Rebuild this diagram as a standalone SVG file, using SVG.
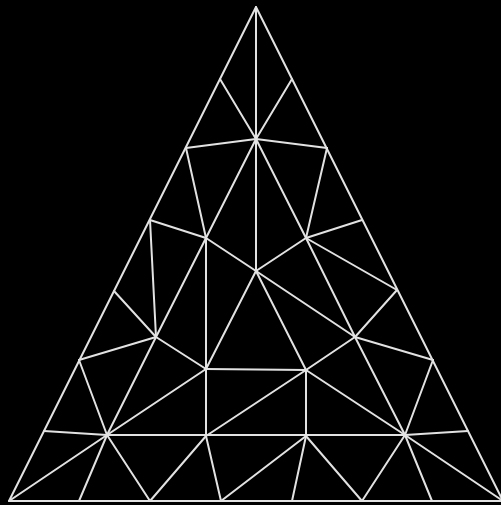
<svg xmlns="http://www.w3.org/2000/svg" width="501" height="505" viewBox="0 0 501 505">
<style>
.m line, .m polygon { stroke: #e2e2e2; stroke-width: 2; fill: none; stroke-linecap: round; stroke-linejoin: round; }
</style>
<rect x="0" y="0" width="501" height="505" fill="#000"/>
<g class="m" id="mesh">
<polygon points="256,7 9,501 503,501"/>
<!-- apex region -->
<line x1="256" y1="7" x2="256" y2="139"/>
<line x1="220" y1="79" x2="256" y2="139"/>
<line x1="292" y1="79" x2="256" y2="139"/>
<line x1="186" y1="148" x2="256" y2="139"/>
<line x1="327" y1="148" x2="256" y2="139"/>
<line x1="256" y1="139" x2="256" y2="271"/>
<line x1="256" y1="139" x2="206" y2="238"/>
<line x1="256" y1="139" x2="306" y2="238"/>
<line x1="186" y1="148" x2="206" y2="238"/>
<line x1="327" y1="148" x2="306" y2="238"/>
<line x1="150" y1="220" x2="206" y2="238"/>
<line x1="362" y1="220" x2="306" y2="238"/>
<line x1="206" y1="238" x2="256" y2="271"/>
<line x1="306" y1="238" x2="256" y2="271"/>
<!-- middle -->
<line x1="206" y1="238" x2="206" y2="436"/>
<line x1="206" y1="238" x2="156" y2="337"/>
<line x1="150" y1="220" x2="156" y2="337"/>
<line x1="114" y1="291" x2="156" y2="337"/>
<line x1="79" y1="360" x2="156" y2="337"/>
<line x1="156" y1="337" x2="206" y2="369"/>
<line x1="156" y1="337" x2="107" y2="435"/>
<line x1="79" y1="360" x2="107" y2="435"/>
<line x1="206" y1="369" x2="107" y2="435"/>
<line x1="256" y1="271" x2="206" y2="369"/>
<line x1="256" y1="271" x2="306" y2="370"/>
<line x1="256" y1="271" x2="355" y2="337"/>
<line x1="306" y1="238" x2="397" y2="290"/>
<line x1="306" y1="238" x2="355" y2="337"/>
<line x1="355" y1="337" x2="397" y2="290"/>
<line x1="355" y1="337" x2="433" y2="360"/>
<line x1="355" y1="337" x2="306" y2="370"/>
<line x1="355" y1="337" x2="405" y2="435"/>
<line x1="433" y1="360" x2="405" y2="435"/>
<line x1="206" y1="369" x2="306" y2="370"/>
<line x1="306" y1="370" x2="306" y2="436"/>
<line x1="306" y1="370" x2="206" y2="436"/>
<line x1="306" y1="370" x2="405" y2="435"/>
<!-- lower band -->
<line x1="44" y1="431" x2="107" y2="435"/>
<line x1="107" y1="435" x2="405" y2="435"/>
<line x1="405" y1="435" x2="468" y2="431"/>
<line x1="9" y1="501" x2="107" y2="435"/>
<line x1="79" y1="501" x2="107" y2="435"/>
<line x1="150" y1="501" x2="107" y2="435"/>
<line x1="150" y1="501" x2="206" y2="436"/>
<line x1="221" y1="501" x2="206" y2="436"/>
<line x1="221" y1="501" x2="306" y2="436"/>
<line x1="292" y1="501" x2="306" y2="436"/>
<line x1="362" y1="501" x2="306" y2="436"/>
<line x1="362" y1="501" x2="405" y2="435"/>
<line x1="432" y1="501" x2="405" y2="435"/>
<line x1="503" y1="501" x2="405" y2="435"/>
</g>
</svg>
